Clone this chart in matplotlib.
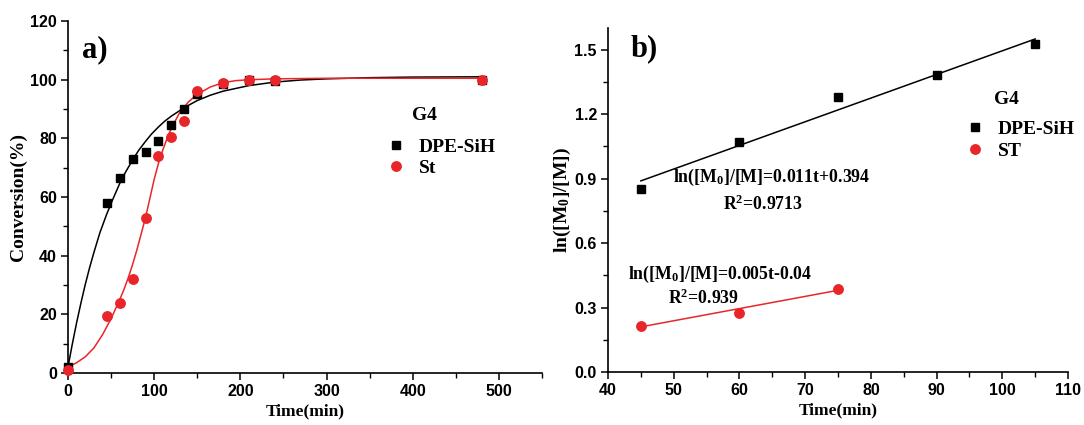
import matplotlib
matplotlib.use("Agg")
import matplotlib.pyplot as plt
from matplotlib.ticker import MultipleLocator, FormatStrFormatter

plt.rcParams['font.family'] = ['Liberation Serif', 'DejaVu Serif']
plt.rcParams['mathtext.fontset'] = 'custom'
plt.rcParams['mathtext.rm'] = 'Liberation Serif:bold'
plt.rcParams['mathtext.it'] = 'Liberation Serif:bold'
plt.rcParams['mathtext.bf'] = 'Liberation Serif:bold'
plt.rcParams['mathtext.default'] = 'rm'

RED = '#e8262a'

# panel a) conversion data
t_a = [0, 45, 60, 75, 90, 105, 120, 135, 150, 180, 210, 240, 480]
conv_dpe = [2, 58, 66.5, 73, 75.5, 79, 84.5, 90, 95, 98.5, 100, 99.5, 100]
conv_st = [1, 19.5, 24, 32, 53, 74, 80.5, 86, 96, 99, 100, 100, 100]

# fitted curves
fit_t_dpe = [0, 5, 10, 15, 20, 25, 30, 37, 45, 52, 60, 67, 75, 82, 90, 97, 105,
             112, 120, 135, 150, 165, 180, 210, 240, 270, 300, 350, 400, 480]
fit_dpe = [2, 9.8, 17.1, 23.8, 30.1, 35.8, 41.0, 47.8, 54.2, 59.2, 64.6, 68.6,
           72.6, 75.9, 79.0, 81.5, 83.9, 85.8, 87.6, 90.5, 92.9, 94.7, 96.1,
           98.0, 99.2, 99.9, 100.3, 100.7, 100.9, 101.0]
fit_t_st = [0, 10, 20, 30, 40, 50, 60, 65, 70, 75, 80, 85, 90, 95, 100, 105,
            110, 115, 120, 130, 140, 150, 165, 180, 195, 210, 240, 300, 480]
fit_st = [2, 3.5, 5.5, 8.5, 13, 18.5, 25, 28.5, 32.5, 37, 42, 47.5, 53, 59.5,
          66, 71.5, 76, 80, 83.5, 89, 92.5, 95, 97.5, 99, 99.7, 100, 100.3,
          100.5, 100.5]

# panel b) kinetics data
t_b = [45, 60, 75, 90, 105]
ln_dpe = [0.85, 1.07, 1.28, 1.38, 1.525]
t_b_st = [45, 60, 75]
ln_st = [0.215, 0.275, 0.385]
line_t_dpe = [45, 105]
line_dpe = [0.889, 1.549]
line_t_st = [45, 75]
line_st = [0.21, 0.38]

fig = plt.figure(figsize=(10.84, 4.25), dpi=100)
ax1 = fig.add_axes([0.0627, 0.1224, 0.4373, 0.828])
ax2 = fig.add_axes([0.5609, 0.1247, 0.4244, 0.8094])

tick_font = {'family': 'Liberation Sans', 'weight': 'bold', 'size': 11.5}
xlabel_font = {'family': 'Liberation Serif', 'weight': 'bold', 'size': 12.5}
ylabel_font = {'family': 'Liberation Serif', 'weight': 'bold', 'size': 14}
leg_prop = {'family': 'Liberation Serif', 'weight': 'bold', 'size': 14}


def style(ax):
    for s in ['top', 'right']:
        ax.spines[s].set_visible(False)
    for s in ['left', 'bottom']:
        ax.spines[s].set_linewidth(1.2)
    ax.tick_params(which='major', direction='out', length=5, width=1.1, pad=3)
    ax.tick_params(which='minor', direction='out', length=3.5, width=1.0)
    for lab in ax.get_xticklabels() + ax.get_yticklabels():
        lab.set_fontfamily(tick_font['family'])
        lab.set_fontweight(tick_font['weight'])
        lab.set_fontsize(tick_font['size'])


# ---- panel a
ax1.plot(fit_t_dpe, fit_dpe, color='black', lw=1.1, zorder=2)
ax1.plot(fit_t_st, fit_st, color=RED, lw=1.1, zorder=2)
ax1.plot(t_a, conv_dpe, 's', color='black', ms=6.3, clip_on=False, zorder=3, label='DPE-SiH')
ax1.plot(t_a, conv_st, 'o', color=RED, ms=6.8, clip_on=False, zorder=4, label='St')
ax1.set_xlim(0, 550)
ax1.set_ylim(0, 120)
ax1.set_xticks([0, 100, 200, 300, 400, 500])
ax1.set_yticks([0, 20, 40, 60, 80, 100, 120])
ax1.xaxis.set_minor_locator(MultipleLocator(50))
ax1.yaxis.set_minor_locator(MultipleLocator(10))
style(ax1)
ax1.set_xlabel('Time(min)', fontdict=xlabel_font, labelpad=3)
ax1.set_ylabel('Conversion(%)', fontdict=ylabel_font, labelpad=2)
ax1.text(0.03, 0.918, 'a)', transform=ax1.transAxes, fontsize=22, fontweight='bold',
         va='center', ha='left')
ax1.text(0.751, 0.733, 'G4', transform=ax1.transAxes, fontsize=14, fontweight='bold',
         ha='center', va='center')
ax1.legend(loc='upper left', bbox_to_anchor=(0.671, 0.668), frameon=False,
           prop=leg_prop, borderpad=0, borderaxespad=0,
           handletextpad=0.7, handlelength=1.0, labelspacing=0.2)

# ---- panel b
ax2.plot(line_t_dpe, line_dpe, color='black', lw=1.1, zorder=2)
ax2.plot(line_t_st, line_st, color=RED, lw=1.1, zorder=2)
ax2.plot(t_b, ln_dpe, 's', color='black', ms=6.3, zorder=3, label='DPE-SiH')
ax2.plot(t_b_st, ln_st, 'o', color=RED, ms=6.8, zorder=3, label='ST')
ax2.set_xlim(40, 110)
ax2.set_ylim(0, 1.6)
ax2.set_xticks(range(40, 111, 10))
ax2.set_yticks([0.0, 0.3, 0.6, 0.9, 1.2, 1.5])
ax2.xaxis.set_minor_locator(MultipleLocator(5))
ax2.yaxis.set_minor_locator(MultipleLocator(0.15))
ax2.yaxis.set_major_formatter(FormatStrFormatter('%.1f'))
style(ax2)
ax2.set_xlabel('Time(min)', fontdict=xlabel_font, labelpad=3)
ax2.set_ylabel('ln([M$_0$]/[M])', fontdict=ylabel_font, labelpad=1)
ax2.text(0.05, 0.94, 'b)', transform=ax2.transAxes, fontsize=22, fontweight='bold',
         va='center', ha='left')
ax2.text(64.9, 0.905, 'ln([M$_0$]/[M]=0.011t+0.394', fontsize=12.8, fontweight='bold',
         ha='center', va='center')
ax2.text(63.6, 0.782, 'R$^2$=0.9713', fontsize=12.8, fontweight='bold',
         ha='center', va='center')
ax2.text(57.0, 0.455, 'ln([M$_0$]/[M]=0.005t-0.04', fontsize=12.8, fontweight='bold',
         ha='center', va='center')
ax2.text(54.6, 0.345, 'R$^2$=0.939', fontsize=12.8, fontweight='bold',
         ha='center', va='center')
ax2.text(0.865, 0.791, 'G4', transform=ax2.transAxes, fontsize=14, fontweight='bold',
         ha='center', va='center')
ax2.legend(loc='upper left', bbox_to_anchor=(0.776, 0.732), frameon=False,
           prop=leg_prop, borderpad=0, borderaxespad=0,
           handletextpad=0.7, handlelength=1.0, labelspacing=0.25)

fig.savefig('out.png', dpi=100)
